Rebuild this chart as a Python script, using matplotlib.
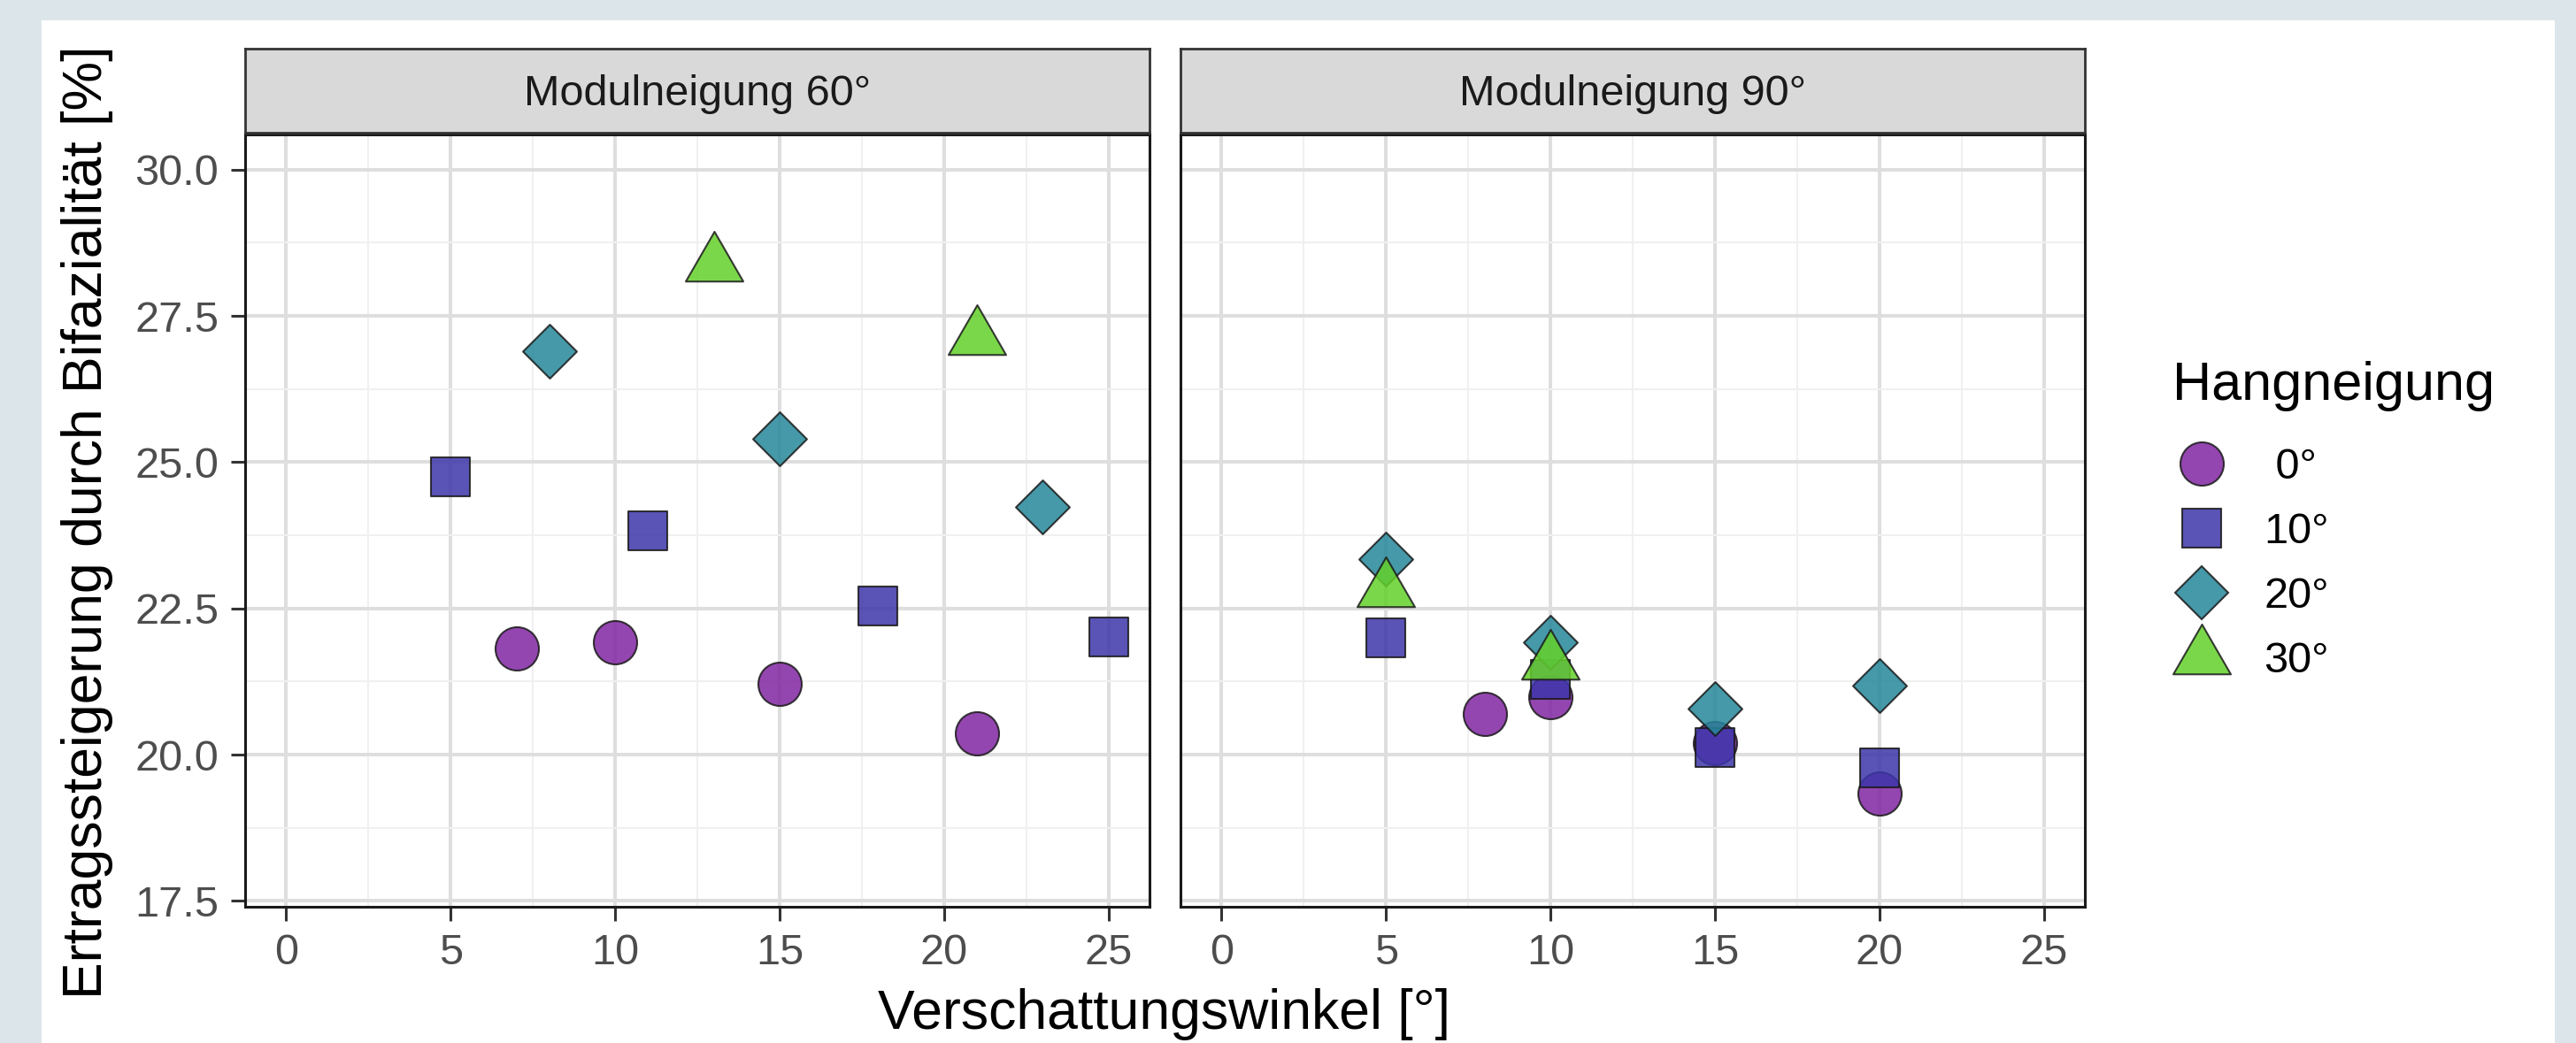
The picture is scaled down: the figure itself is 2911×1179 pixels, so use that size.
import matplotlib
matplotlib.use("Agg")
import matplotlib.pyplot as plt
from matplotlib.lines import Line2D
from matplotlib.path import Path
from matplotlib.patches import Rectangle

# shading angle [deg] and yield gain [%] per slope (Hangneigung), module tilt 60 deg
m60_x0 = [7, 10, 15, 21]
m60_y0 = [21.81, 21.92, 21.21, 20.36]
m60_x10 = [5, 11, 18, 25]
m60_y10 = [24.75, 23.82, 22.54, 22.01]
m60_x20 = [8, 15, 23]
m60_y20 = [26.89, 25.40, 24.23]
m60_x30 = [13, 21]
m60_y30 = [28.38, 27.12]

# module tilt 90 deg
m90_x0 = [8, 10, 15, 20]
m90_y0 = [20.70, 20.98, 20.19, 19.34]
m90_x10 = [5, 10, 15, 20]
m90_y10 = [22.00, 21.29, 20.12, 19.77]
m90_x20 = [5, 10, 15, 20]
m90_y20 = [23.34, 21.92, 20.78, 21.18]
m90_x30 = [5, 10]
m90_y30 = [22.82, 21.57]

slope_labels = [" 0°", "10°", "20°", "30°"]
panel_titles = ["Modulneigung 60°", "Modulneigung 90°"]
x_ticks = [0, 5, 10, 15, 20, 25]
y_ticks = [17.5, 20.0, 22.5, 25.0, 27.5, 30.0]
y_tick_labels = ["17.5", "20.0", "22.5", "25.0", "27.5", "30.0"]

colors = ["#8226A2", "#3D36AB", "#258799", "#64D12A"]
alpha = 0.85
edge = "#1a1a1a"

# triangle centred on its centroid like R's pch 24
tri = Path([(0, 1.555), (1.347, -0.778), (-1.347, -0.778), (0, 1.555)], closed=True)
markers = ["o", "s", "D", tri]
msizes = [35.3, 31.4, 31.0, 54.0]

plt.rcParams["font.family"] = ["Liberation Sans", "DejaVu Sans"]

W, H = 2911, 1179
fig = plt.figure(figsize=(W / 100, H / 100), dpi=100, facecolor="#DCE6EA")
fig.patches.append(Rectangle((47 / W, 0), (2887 - 47) / W, (H - 23) / H,
                             transform=fig.transFigure, facecolor="white",
                             edgecolor="none", zorder=-10))

panels = [
    [(m60_x0, m60_y0), (m60_x10, m60_y10), (m60_x20, m60_y20), (m60_x30, m60_y30)],
    [(m90_x0, m90_y0), (m90_x10, m90_y10), (m90_x20, m90_y20), (m90_x30, m90_y30)],
]
lefts = [277, 1334]
pw = 1022
top, bottom = 152, 1025

for i, series in enumerate(panels):
    ax = fig.add_axes([lefts[i] / W, (H - bottom) / H, pw / W, (bottom - top) / H])
    for (xs, ys), m, ms, c in zip(series, markers, msizes, colors):
        ax.scatter(xs, ys, marker=m, s=ms ** 2, facecolor=c, edgecolor=edge,
                   linewidths=1.5, alpha=alpha, zorder=3)
    ax.set_xlim(-1.25, 26.25)
    ax.set_ylim(17.4, 30.6)
    ax.set_xticks(x_ticks)
    ax.set_xticks([2.5, 7.5, 12.5, 17.5, 22.5], minor=True)
    ax.set_yticks(y_ticks)
    ax.set_yticks([18.75, 21.25, 23.75, 26.25, 28.75], minor=True)
    ax.set_yticklabels(y_tick_labels)
    ax.grid(which="major", color="#DEDEDE", lw=2.9)
    ax.grid(which="minor", color="#F0F0F0", lw=1.5)
    ax.set_axisbelow(True)
    for sp in ax.spines.values():
        sp.set_color("#1a1a1a")
        sp.set_linewidth(2.2)
    ax.tick_params(which="major", length=11.5, width=2.2, color="#333333",
                   labelsize=35, labelcolor="#4D4D4D", pad=10)
    ax.tick_params(which="minor", length=0)
    if i == 1:
        ax.tick_params(axis="y", left=False, labelleft=False)

    strip = fig.add_axes([lefts[i] / W, (H - 150) / H, pw / W, 95 / H])
    strip.set_facecolor("#D9D9D9")
    strip.set_xticks([])
    strip.set_yticks([])
    for sp in strip.spines.values():
        sp.set_color("#333333")
        sp.set_linewidth(2.0)
    strip.text(0.5, 0.46, panel_titles[i], ha="center", va="center",
               fontsize=35, color="#1A1A1A", transform=strip.transAxes)

fig.text(1316 / W, 1 - 1163 / H, "Verschattungswinkel [°]", ha="center",
         va="baseline", fontsize=45, color="black")
fig.text(99 / W, 1 - 590 / H, "Ertragssteigerung durch Bifazialität [%]",
         ha="center", va="center", rotation=90, fontsize=45, color="black")

# legend: title as separate text, keys placed below it
fig.text(2455 / W, 1 - 452 / H, "Hangneigung", ha="left", va="baseline",
         fontsize=44, color="black")
handles = [Line2D([], [], ls="", marker=m, ms=ms, mfc=c, mec=edge, mew=1.5,
                  alpha=alpha)
           for m, ms, c in zip(markers, msizes, colors)]
fig.legend(handles=handles, labels=slope_labels,
           loc="center left", bbox_to_anchor=(2455 / W, 1 - 638 / H),
           frameon=False, fontsize=35,
           handlelength=1.36, handletextpad=0.76, labelspacing=0.58,
           borderpad=0, borderaxespad=0)

fig.savefig("out.png", dpi=100, facecolor=fig.get_facecolor())
